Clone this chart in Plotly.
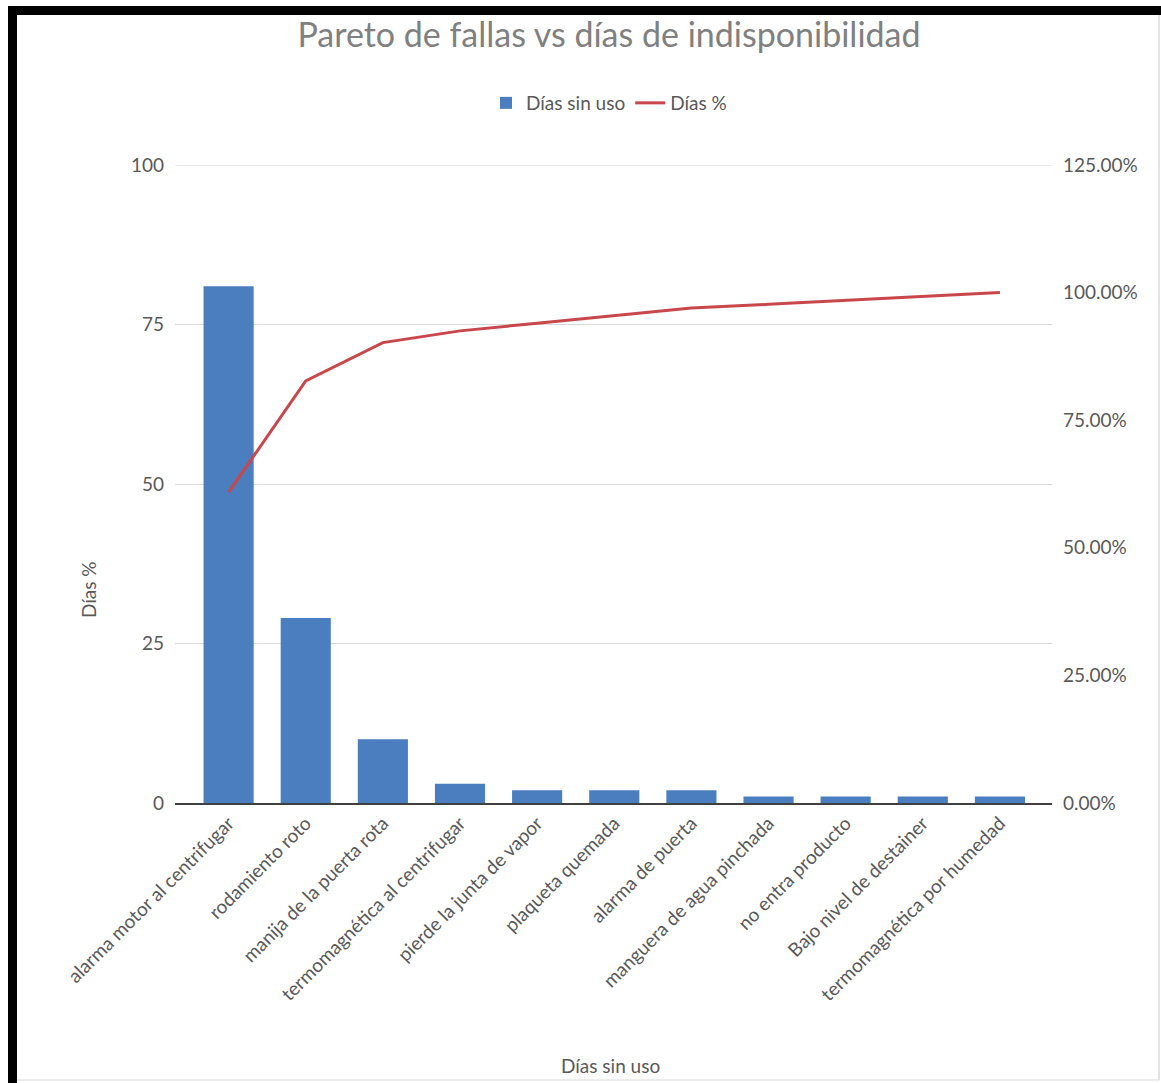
import plotly.graph_objects as go

categories = [
    "alarma motor al centrifugar",
    "rodamiento roto",
    "manija de la puerta rota",
    "termomagnética al centrifugar",
    "pierde la junta de vapor",
    "plaqueta quemada",
    "alarma de puerta",
    "manguera de agua pinchada",
    "no entra producto",
    "Bajo nivel de destainer",
    "termomagnética por humedad",
]
dias_sin_uso = [81, 29, 10, 3, 2, 2, 2, 1, 1, 1, 1]
dias_pct = [0.609, 0.827, 0.902, 0.925, 0.940, 0.955, 0.970, 0.977, 0.985, 0.992, 1.000]
left_ticks = [0, 25, 50, 75, 100]
right_ticks = [0, 0.25, 0.5, 0.75, 1.0, 1.25]

W, H = 1161, 1083
ML, MR, MT, MB = 175, 109, 165, 280
PW, PH = W - ML - MR, H - MT - MB

def px(x):
    return (x - ML) / PW

def py(y):
    return (H - MB - y) / PH

FONT = "Lato"
TXT = "#595959"
FS = 19

fig = go.Figure()
fig.add_trace(go.Bar(
    x=list(range(len(categories))), y=dias_sin_uso, name="Días sin uso",
    marker=dict(color="#4a7ebf", line=dict(width=0)),
))
fig.add_trace(go.Scatter(
    x=list(range(len(categories))), y=dias_pct, name="Días %", yaxis="y2",
    mode="lines", line=dict(color="#c9474a", width=3),
))

fig.update_layout(
    width=W, height=H,
    margin=dict(l=ML, r=MR, t=MT, b=MB),
    paper_bgcolor="white", plot_bgcolor="white",
    font=dict(family=FONT, size=FS, color=TXT),
    bargap=0.35,
    title=dict(text="Pareto de fallas vs días de indisponibilidad",
               x=px(609), xref="paper", xanchor="center",
               y=1 - 35 / H, yanchor="middle",
               font=dict(family=FONT, size=34, color="#808080")),
    legend=dict(orientation="h", x=px(609), xanchor="center", y=py(103), yanchor="middle",
                font=dict(size=FS, color=TXT), itemwidth=30, traceorder="normal"),
    xaxis=dict(
        range=[-0.695, 10.675],
        tickmode="array", tickvals=list(range(len(categories))), ticktext=categories,
        tickangle=-45, showgrid=False, zeroline=False,
        showline=True, linecolor="#404040", linewidth=1.5,
        ticks="", tickfont=dict(size=FS, color=TXT),
    ),
    yaxis=dict(
        range=[0, 100], tickvals=left_ticks, showgrid=True, gridcolor="#d9d9d9",
        gridwidth=1, zeroline=False, showline=False, ticks="",
        tickfont=dict(size=FS, color=TXT), ticklabelstandoff=10,
    ),
    yaxis2=dict(
        range=[0, 1.25], tickvals=right_ticks, tickformat=".2%", overlaying="y",
        side="right", showgrid=False, zeroline=False, showline=False, ticks="",
        tickfont=dict(size=FS, color=TXT), ticklabelstandoff=10,
    ),
    annotations=[
        dict(text="Días %", x=px(88), y=py(590), xref="paper", yref="paper",
             textangle=-90, showarrow=False, font=dict(size=FS, color=TXT),
             xanchor="center", yanchor="middle"),
        dict(text="Días sin uso", x=px(610), y=py(1065), xref="paper", yref="paper",
             showarrow=False, font=dict(size=FS, color=TXT),
             xanchor="center", yanchor="middle"),
    ],
    shapes=[
        dict(type="line", xref="paper", yref="y", x0=0, x1=1, y0=left_ticks[-1],
             y1=left_ticks[-1], line=dict(color="#d9d9d9", width=1), layer="below"),
        dict(type="rect", xref="paper", yref="paper", x0=px(8), x1=px(1161),
             y0=py(6), y1=py(15), fillcolor="black", line=dict(width=0), layer="above"),
        dict(type="rect", xref="paper", yref="paper", x0=px(8), x1=px(17),
             y0=py(6), y1=py(1083), fillcolor="black", line=dict(width=0), layer="above"),
        dict(type="line", xref="paper", yref="paper", x0=px(1159), x1=px(1159),
             y0=py(15), y1=py(1080), line=dict(color="#c8c8c8", width=1)),
        dict(type="line", xref="paper", yref="paper", x0=px(17), x1=px(1159),
             y0=py(1080), y1=py(1080), line=dict(color="#d8d8d8", width=1)),
    ],
)

fig.write_html("out.html")
